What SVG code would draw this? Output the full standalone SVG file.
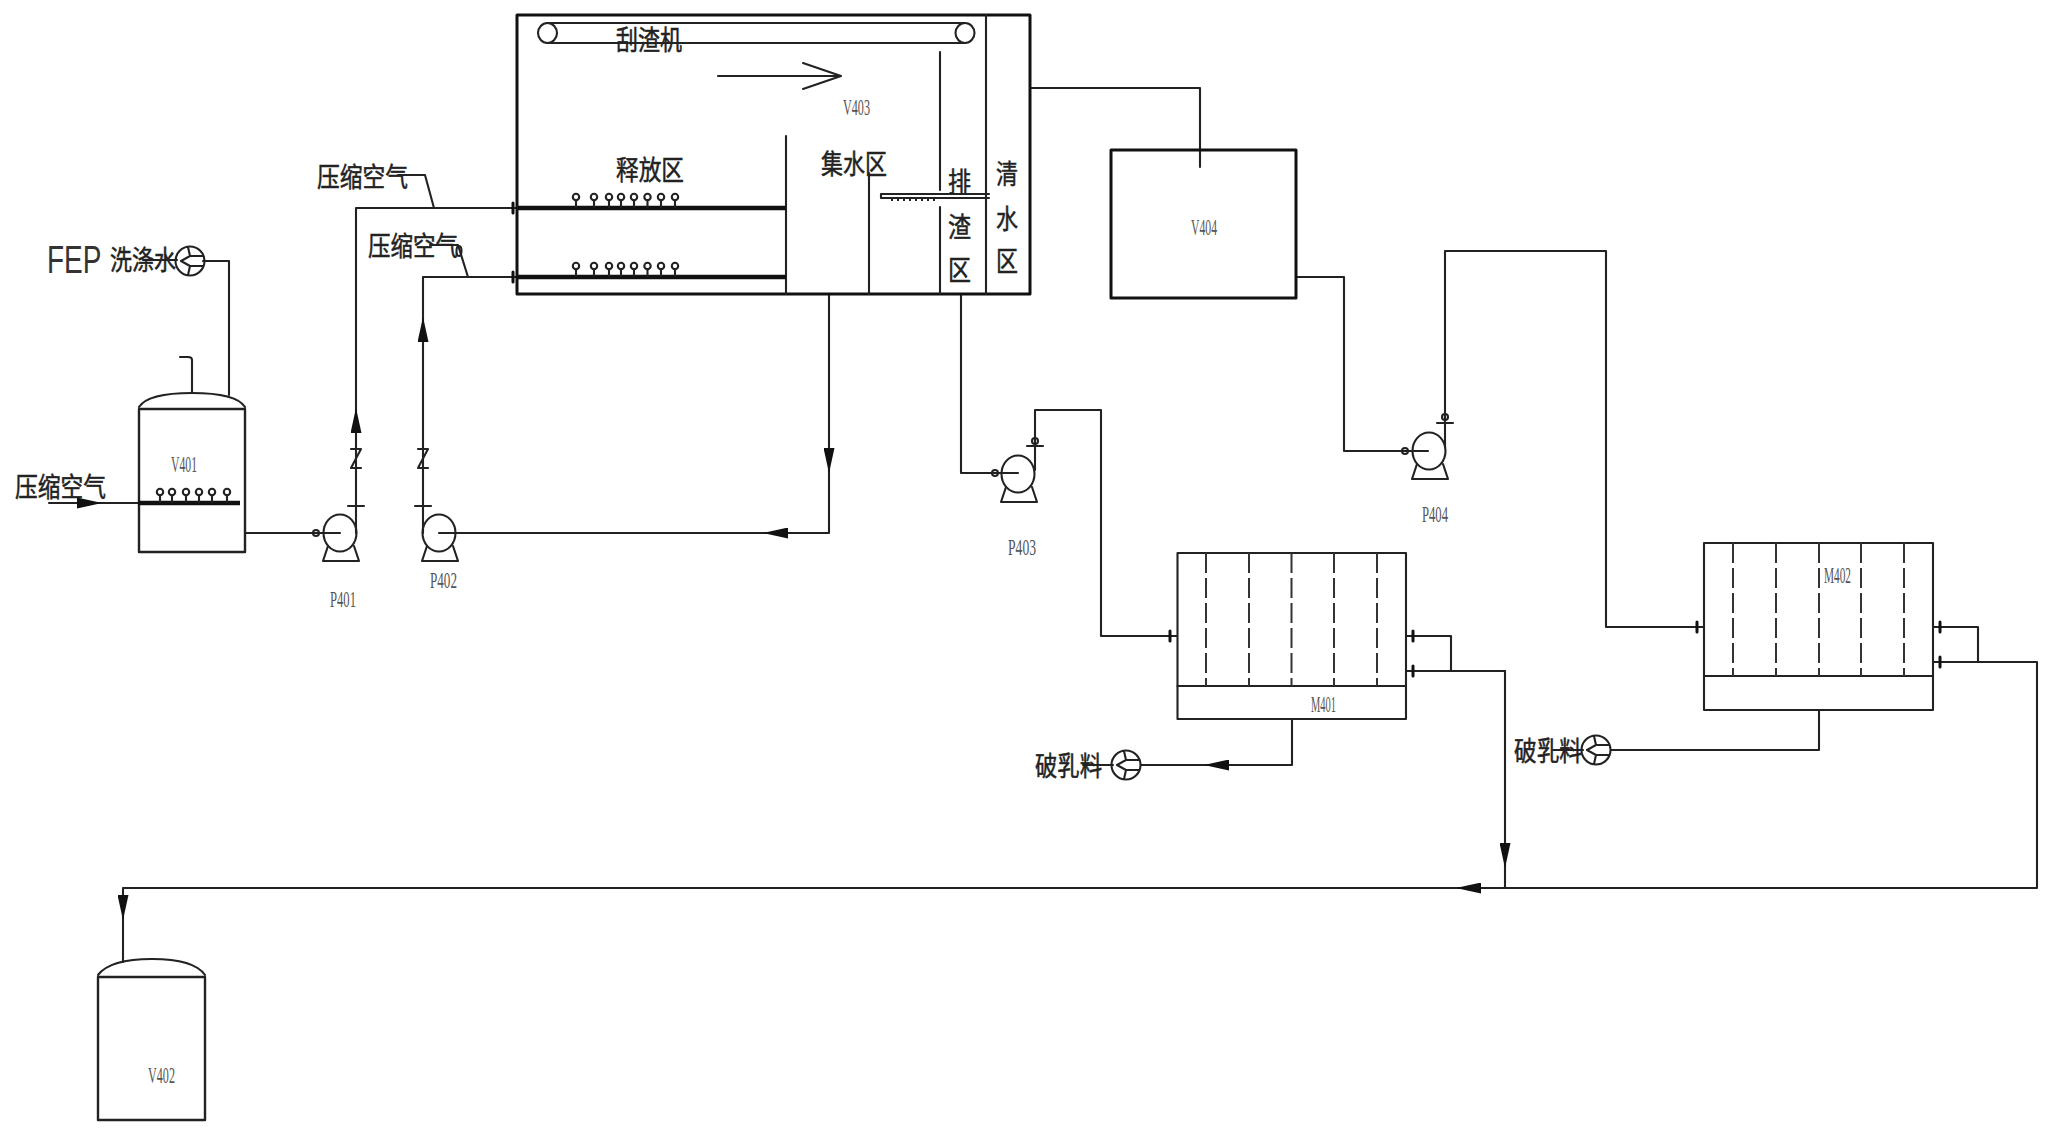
<svg xmlns="http://www.w3.org/2000/svg" width="2051" height="1136" viewBox="0 0 2051 1136">
<style>
.l{fill:none;stroke:#222;stroke-width:2.1;stroke-linejoin:round;stroke-linecap:round}
.v{fill:none;stroke:#222;stroke-width:2.4;stroke-linejoin:round;stroke-linecap:round}
.h{fill:none;stroke:#111;stroke-width:3;stroke-linejoin:round;stroke-linecap:round}
.b{fill:none;stroke:#111;stroke-width:4.5}
.d{fill:none;stroke:#333;stroke-width:2;stroke-dasharray:20 5}
.z{font-family:"Noto Sans CJK SC","Liberation Sans",sans-serif;fill:#222;stroke:#222;stroke-width:.5px;font-size:27px}
.t{font-family:"Liberation Serif",serif;fill:#555;font-size:24px}
.e{font-family:"Liberation Sans",sans-serif;fill:#333;font-size:28px}
</style>
<defs>
<marker id="a" viewBox="0 0 25 11" refX="25" refY="5.5" markerWidth="25" markerHeight="11" markerUnits="userSpaceOnUse" orient="auto"><path d="M0 0L25 5.5L0 11Z" fill="#111"/></marker>
<g id="pump"><ellipse class="l" rx="16.5" ry="18.5"/><path class="l" d="M-12 13L-17 28H19L14 13"/></g>
<g id="dos"><circle class="l" r="14.5"/><path class="l" d="M13-5H0L-9 0L0 5H13M-2-14L0-5M-2 14L0 5"/></g>
<g id="bub"><circle class="l" cy="-10" r="3.2"/><path class="l" d="M0-7V0"/></g>
<path id="zz" class="l" d="M-5 449H5L-5 468H5"/>
<path id="tick" class="h" d="M0-5V5"/>
</defs>
<rect width="2051" height="1136" fill="#fff"/>

<g id="connectors">
<path class="l" d="M229 395V261H203"/>
<path class="l" d="M143 260H177"/>
<path class="l" marker-end="url(#a)" d="M49 503H102"/>
<path class="l" d="M102 503H138"/>
<path class="l" d="M245 533H323"/>
<path class="l" marker-end="url(#a)" d="M356 533V408"/>
<path class="l" d="M356 408V208H517"/>
<path class="l" d="M398 175H425L434 208"/>
<path class="l" marker-end="url(#a)" d="M423 533V317"/>
<path class="l" d="M423 317V277H517"/>
<path class="l" d="M430 245H458L468 277"/>
<ellipse class="l" cx="459" cy="251" rx="2.5" ry="5"/>
<path class="l" marker-end="url(#a)" d="M829 294V473"/>
<path class="l" d="M829 473V533H763"/>
<path class="l" marker-end="url(#a)" d="M788 533H763"/>
<path class="l" d="M763 533H439"/>
<path class="l" d="M961 294V473H1001"/>
<path class="l" d="M1035 470V410H1101V636H1177"/>
<path class="l" d="M1030 88H1200V167"/>
<path class="l" d="M1296 277H1344V451H1413"/>
<path class="l" d="M1445 447V251H1606V627H1704"/>
<path class="l" d="M1406 636H1451V671M1406 671H1505"/>
<path class="l" marker-end="url(#a)" d="M1505 671V868"/>
<path class="l" d="M1505 868V888"/>
<path class="l" d="M1933 627H1978V662M1933 662H2037V888H1475"/>
<path class="l" marker-end="url(#a)" d="M1481 888H1456"/>
<path class="l" d="M1456 888H123"/>
<path class="l" marker-end="url(#a)" d="M123 889V920"/>
<path class="l" d="M123 920V962"/>
<path class="l" d="M1292 719V765H1225"/>
<path class="l" marker-end="url(#a)" d="M1229 765H1204"/>
<path class="l" d="M1204 765H1141M1113 765H1083"/>
<path class="l" d="M1819 710V750H1611M1583 750H1553"/>
<use href="#zz" x="356"/><use href="#zz" x="423"/>
<path class="l" d="M348 506H364M415 506H431M1027 446H1043M1437 423H1453"/>
<circle class="l" cx="1035" cy="441" r="3"/>
<circle class="l" cx="1445" cy="417" r="3"/>
<circle class="l" cx="316" cy="533" r="3"/>
<circle class="l" cx="995" cy="473" r="3"/>
<circle class="l" cx="1405" cy="451" r="3"/>
<use href="#tick" x="513" y="208"/><use href="#tick" x="513" y="277"/>
<use href="#tick" x="1170" y="636"/><use href="#tick" x="1413" y="636"/><use href="#tick" x="1413" y="671"/>
<use href="#tick" x="1697" y="627"/><use href="#tick" x="1940" y="627"/><use href="#tick" x="1940" y="662"/>
</g>

<g id="V401">
<path class="v" d="M139 409V552H245V409Z"/>
<path class="l" d="M139 407Q148 393 192 393T245 407"/>
<path class="l" d="M192 393V360Q192 357 188 357H180"/>
<path class="b" d="M138 503H240"/>
<use href="#bub" x="160" y="502"/><use href="#bub" x="172" y="502"/><use href="#bub" x="186" y="502"/><use href="#bub" x="199" y="502"/><use href="#bub" x="212" y="502"/><use href="#bub" x="227" y="502"/>
<text class="t" x="171" y="472" textLength="26" lengthAdjust="spacingAndGlyphs">V401</text>
<text class="z" x="15" y="497" textLength="91" lengthAdjust="spacingAndGlyphs">压缩空气</text>
</g>

<g id="FEP">
<use href="#dos" x="190" y="261"/>
<text class="e" transform="translate(47 273) scale(1 1.36)">FEP</text>
<text class="z" x="110" y="270" textLength="66" lengthAdjust="spacingAndGlyphs">洗涤水</text>
</g>

<g id="air1"><text class="z" x="317" y="187" textLength="91" lengthAdjust="spacingAndGlyphs">压缩空气</text></g>
<g id="air2"><text class="z" x="368" y="256" textLength="90" lengthAdjust="spacingAndGlyphs">压缩空气</text></g>

<g id="P401"><use href="#pump" x="340" y="533"/><path class="l" d="M323 533H340"/><text class="t" x="330" y="607" textLength="26" lengthAdjust="spacingAndGlyphs">P401</text></g>
<g id="P402"><use href="#pump" x="439" y="533"/><text class="t" x="430" y="588" textLength="27" lengthAdjust="spacingAndGlyphs">P402</text></g>
<g id="P403"><use href="#pump" x="1018" y="474"/><path class="l" d="M1001 473H1018"/><text class="t" x="1008" y="555" textLength="28" lengthAdjust="spacingAndGlyphs">P403</text></g>
<g id="P404"><use href="#pump" x="1429" y="451"/><path class="l" d="M1412 451H1428"/><text class="t" x="1422" y="522" textLength="26" lengthAdjust="spacingAndGlyphs">P404</text></g>

<g id="V403">
<rect class="h" x="517" y="15" width="513" height="279"/>
<path class="l" d="M986 15V294M940 52V190M940 207V294M869 173V294M786 136V294"/>
<ellipse class="l" cx="547.500" cy="33" rx="9.500" ry="10"/>
<ellipse class="l" cx="965" cy="33" rx="9.500" ry="10"/>
<path class="l" d="M547 23H965M547 43H965"/>
<path class="l" d="M718 76H841M803 63L841 76L803 89"/>
<path class="b" d="M517 208H786M517 277H786"/>
<use href="#bub" x="576" y="207"/><use href="#bub" x="594" y="207"/><use href="#bub" x="609" y="207"/><use href="#bub" x="621" y="207"/><use href="#bub" x="634" y="207"/><use href="#bub" x="647.500" y="207"/><use href="#bub" x="661" y="207"/><use href="#bub" x="675" y="207"/>
<use href="#bub" x="576" y="276"/><use href="#bub" x="594" y="276"/><use href="#bub" x="609" y="276"/><use href="#bub" x="621" y="276"/><use href="#bub" x="634" y="276"/><use href="#bub" x="647.500" y="276"/><use href="#bub" x="661" y="276"/><use href="#bub" x="675" y="276"/>
<path class="l" d="M881 194H989M881 198H989M881 194V198"/>
<path fill="none" stroke="#222" stroke-width="2" stroke-dasharray="2 4" d="M891 200H939"/>
<text class="z" x="616" y="50" textLength="66" lengthAdjust="spacingAndGlyphs">刮渣机</text>
<text class="z" x="616" y="180" textLength="68" lengthAdjust="spacingAndGlyphs">释放区</text>
<text class="z" x="821" y="174" textLength="66" lengthAdjust="spacingAndGlyphs">集水区</text>
<text class="z" x="948" y="192" textLength="23" lengthAdjust="spacingAndGlyphs">排</text>
<text class="z" x="948" y="237" textLength="23" lengthAdjust="spacingAndGlyphs">渣</text>
<text class="z" x="948" y="280" textLength="23" lengthAdjust="spacingAndGlyphs">区</text>
<text class="z" x="996" y="184" textLength="22" lengthAdjust="spacingAndGlyphs">清</text>
<text class="z" x="996" y="229" textLength="22" lengthAdjust="spacingAndGlyphs">水</text>
<text class="z" x="996" y="271" textLength="22" lengthAdjust="spacingAndGlyphs">区</text>
<text class="t" x="843" y="115" textLength="27" lengthAdjust="spacingAndGlyphs">V403</text>
</g>

<g id="V404">
<rect class="h" x="1111" y="150" width="185" height="148"/>
<text class="t" x="1191" y="235" textLength="26" lengthAdjust="spacingAndGlyphs">V404</text>
</g>

<g id="M401">
<rect class="l" x="1177.500" y="553" width="228.500" height="166"/>
<path class="l" d="M1177.500 686H1406"/>
<path class="d" d="M1206 553V686M1249 553V686M1291.500 553V686M1334 553V686M1377 553V686"/>
<text class="t" x="1311" y="712" textLength="25" lengthAdjust="spacingAndGlyphs">M401</text>
</g>
<g id="M402">
<rect class="l" x="1704" y="543" width="229" height="167"/>
<path class="l" d="M1704 676H1933"/>
<path class="d" d="M1733 543V676M1776 543V676M1819 543V676M1861 543V676M1904 543V676"/>
<text class="t" x="1824" y="583" textLength="27" lengthAdjust="spacingAndGlyphs">M402</text>
</g>

<g id="demulsifier1">
<use href="#dos" x="1126" y="765"/>
<text class="z" x="1035" y="776" textLength="67" lengthAdjust="spacingAndGlyphs">破乳料</text>
</g>
<g id="demulsifier2">
<use href="#dos" x="1596" y="750"/>
<text class="z" x="1514" y="761" textLength="68" lengthAdjust="spacingAndGlyphs">破乳料</text>
</g>

<g id="V402">
<path class="v" d="M98 977V1120H205V977Z"/>
<path class="l" d="M98 975Q110 959 152 959T205 975"/>
<text class="t" x="148" y="1083" textLength="27" lengthAdjust="spacingAndGlyphs">V402</text>
</g>
</svg>
